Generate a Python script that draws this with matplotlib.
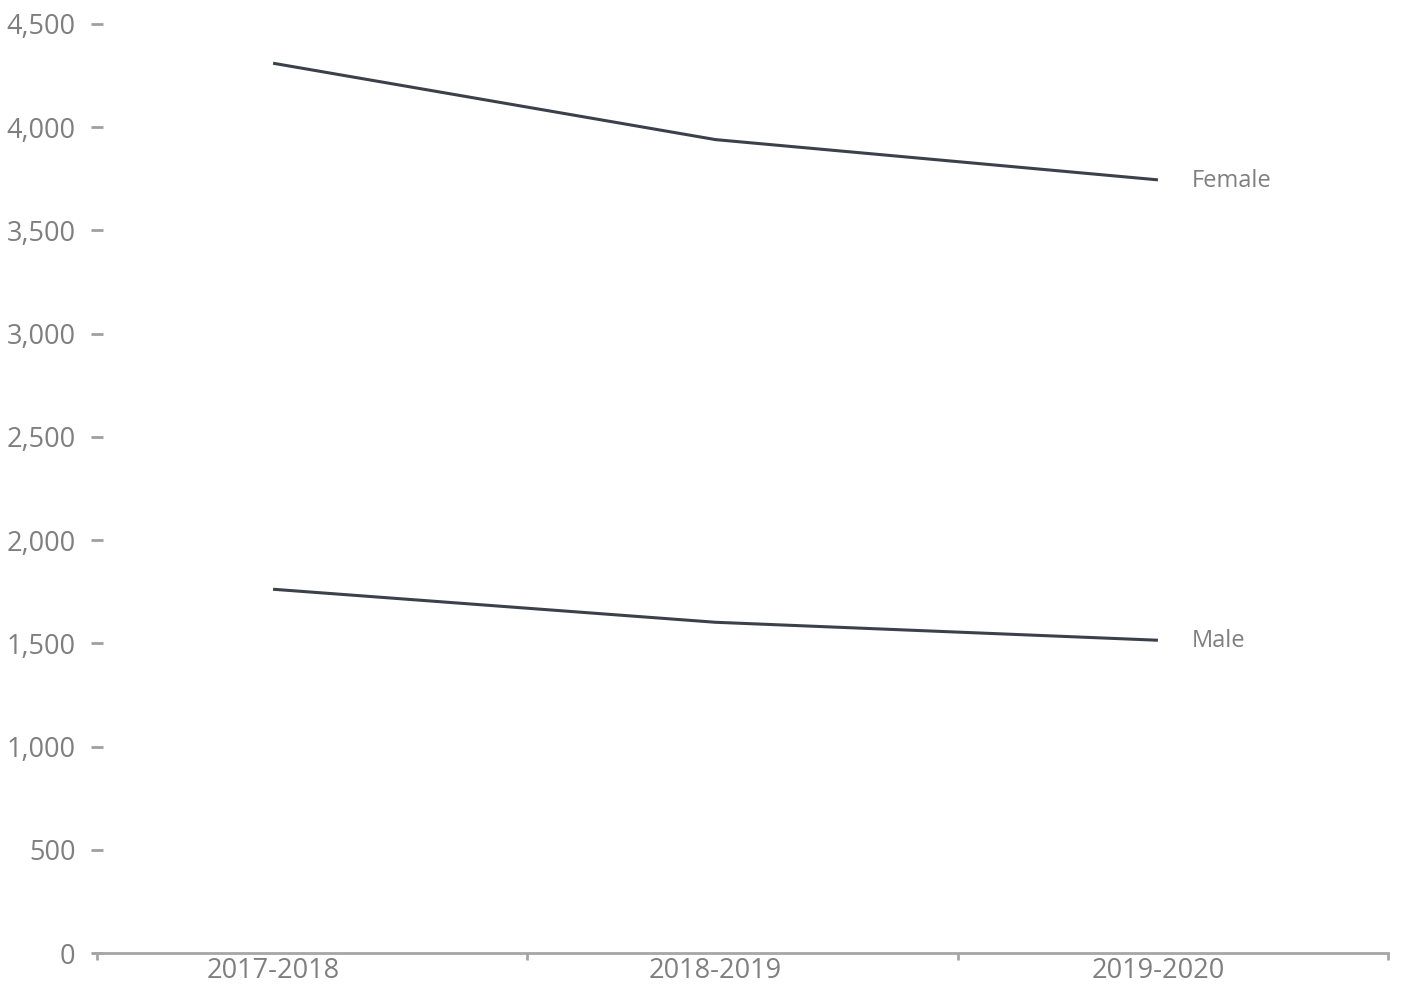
import matplotlib.pyplot as plt
import matplotlib

matplotlib.rcParams['font.family'] = ['Open Sans', 'DejaVu Sans']

years = ["2017-2018", "2018-2019", "2019-2020"]
female = [4310, 3940, 3745]
male = [1762, 1602, 1515]
yticks = [0, 500, 1000, 1500, 2000, 2500, 3000, 3500, 4000, 4500]

grey = '#7f7f7f'
line_col = '#3b404b'

fig = plt.figure(figsize=(14.02, 10.07), dpi=100)
ax = fig.add_axes([97 / 1402, 54 / 1007, 1291 / 1402, 929 / 1007])

x = list(range(len(years)))
ax.plot(x, female, color=line_col, lw=2.2, solid_capstyle='butt')
ax.plot(x, male, color=line_col, lw=2.2, solid_capstyle='butt')

for vals, name in [(female, "Female"), (male, "Male")]:
    ax.annotate(name, (x[-1], vals[-1]), xytext=(24, -0.5), textcoords='offset points',
                va='center', ha='left', fontsize=17, color=grey)

xmin, xmax = -0.398, 2.52
ax.set_xlim(xmin, xmax)
ax.set_ylim(0, 4500)

ax.set_xticks(x)
ax.set_xticklabels(years)
ax.set_xticks([xmin, 0.574, 1.548, xmax], minor=True)
ax.tick_params(axis='x', which='major', length=0, pad=3, labelsize=19.5, labelcolor=grey)
ax.tick_params(axis='x', which='minor', length=5, width=2, color='#a6a6a6', direction='out')

ax.set_yticks(yticks)
ax.set_yticklabels([f"{v:,}" for v in yticks])
ax.tick_params(axis='y', length=9, width=2, direction='inout', color='#a0a0a0',
               pad=11, labelsize=19.5, labelcolor=grey)

for s in ['top', 'right', 'left']:
    ax.spines[s].set_visible(False)
ax.spines['bottom'].set_color('#a6a6a6')
ax.spines['bottom'].set_linewidth(2)

fig.savefig("out.png", dpi=100)
